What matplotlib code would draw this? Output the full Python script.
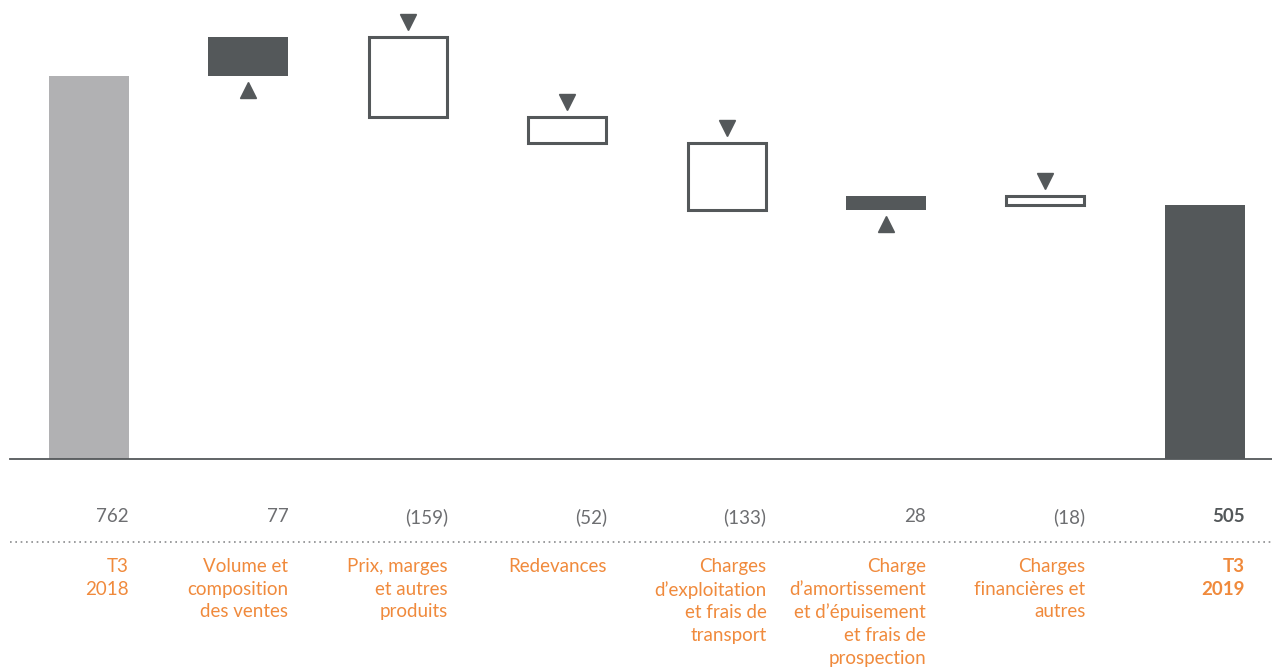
import matplotlib
matplotlib.use("Agg")
import matplotlib.pyplot as plt
from matplotlib.transforms import blended_transform_factory, offset_copy

plt.rcParams['font.family'] = ['Lato', 'DejaVu Sans']

categories = ["T3\n2018", "Volume et\ncomposition\ndes ventes", "Prix, marges\net autres\nproduits",
              "Redevances", "Charges\nd\u2019exploitation\net frais de\ntransport",
              "Charge\nd\u2019amortissement\net d\u2019\u00e9puisement\net frais de\nprospection",
              "Charges\nfinanci\u00e8res et\nautres", "T3\n2019"]
start_value = 762
changes = [77, -159, -52, -133, 28, -18]
end_value = 505
value_labels = ["762", "77", "(159)", "(52)", "(133)", "28", "(18)", "505"]

DARK = "#54585a"
LIGHT = "#b1b1b3"
ORANGE = "#f08a3c"
TEXT_GRAY = "#6d6e71"

W, H = 12.72, 6.68
fig = plt.figure(figsize=(W, H), dpi=100)
base_frac = 1 - 459 / 668
ax = fig.add_axes([0, base_frac, 1, 1 - base_frac])
ax.set_xlim(-89 / 159.4, (1272 - 89) / 159.4)
ax.set_ylim(0, 459 / 0.5026)
ax.axis("off")

bw = 0.502
n = len(categories)

# opening and closing totals
ax.bar(0, start_value, width=bw, color=LIGHT, zorder=2)
ax.bar(n - 1, end_value, width=bw, color=DARK, zorder=2)

up_tr = offset_copy(ax.transData, fig=fig, y=-10, units='points')
dn_tr = offset_copy(ax.transData, fig=fig, y=11, units='points')

level = start_value
for i, c in enumerate(changes, start=1):
    lo, hi = min(level, level + c), max(level, level + c)
    if c > 0:
        ax.bar(i, hi - lo, bottom=lo, width=bw, color=DARK, zorder=2)
        ax.plot(i, lo, marker='^', ms=11, color=DARK, transform=up_tr, clip_on=False)
    else:
        ax.bar(i, hi - lo, bottom=lo, width=bw - 0.012, facecolor="white",
               edgecolor=DARK, linewidth=2.2, zorder=2)
        ax.plot(i, hi, marker='v', ms=11, color=DARK, transform=dn_tr, clip_on=False)
    level += c

# baseline
fig.add_artist(plt.Line2D([10 / 1272, 1], [base_frac, base_frac], color=DARK, lw=1.3))
# dotted separator
sep_y = 1 - 542 / 668
fig.add_artist(plt.Line2D([10 / 1272, 1], [sep_y, sep_y], color="#8a8b8d", lw=1.2,
                          linestyle=(0, (1, 2.2))))

tr = blended_transform_factory(ax.transData, fig.transFigure)
for i, (cat, val) in enumerate(zip(categories, value_labels)):
    last = i == n - 1
    ax.text(i + bw / 2, 1 - 517 / 668, val, transform=tr, ha='right', va='center',
            fontsize=13.5, color=DARK if last else TEXT_GRAY,
            fontweight='bold' if last else 'normal')
    ax.text(i + bw / 2, 1 - 558 / 668, cat, transform=tr, ha='right', va='top',
            fontsize=13.5, color=ORANGE, linespacing=1.4,
            fontweight='bold' if last else 'normal')

fig.savefig("out.png", dpi=100)
